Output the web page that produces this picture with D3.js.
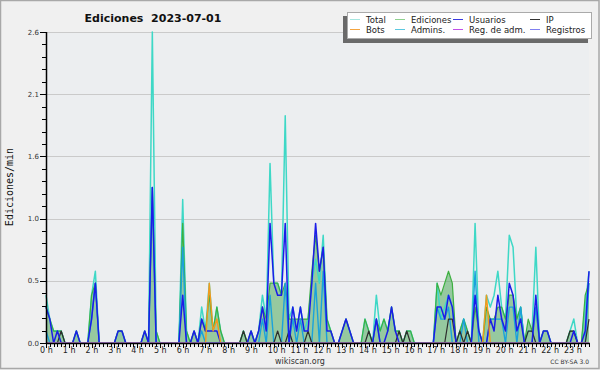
<!DOCTYPE html>
<html>
<head>
<meta charset="utf-8">
<script src="https://cdn.jsdelivr.net/npm/d3@7/dist/d3.min.js"></script>
<style>
body { margin: 0; background: #f0f0f0; }
text { font-family: "DejaVu Sans", sans-serif; }
</style>
</head>
<body>
<svg id="chart" width="600" height="370"></svg>
<script>
// edits per minute, one value every 10 minutes (6 per hour, 24 rows)
var total = [
    .4, .2, .1, .1, .1, 0,
    0, 0, .1, 0, 0, 0,
    .4, .6, 0, 0, 0, 0,
    0, .1, .1, 0, 0, 0,
    0, 0, .1, 0, 2.6, .1,
    0, 0, 0, 0, 0, 0,
    1.2, .1, 0, .1, 0, .3,
    .1, .5, .1, .3, .1, 0,
    0, 0, 0, 0, .1, 0,
    .1, 0, .1, .4, .2, 1.5,
    .5, .5, .4, 1.9, .2, .3,
    .1, .3, .1, .2, .5, .7,
    .5, .9, .2, .1, 0, 0,
    .1, .2, .1, 0, 0, 0,
    .2, .1, 0, .4, .1, .2,
    .1, .3, .1, .1, 0, .1,
    .1, 0, 0, 0, 0, 0,
    0, .5, .2, .3, .4, .3,
    0, .1, .2, .1, 0, 1.0,
    .1, 0, .4, .3, .4, .6,
    .3, .2, .9, .8, .2, .3,
    0, .1, .1, .8, 0, .1,
    .1, 0, 0, 0, 0, 0,
    .1, .2, 0, 0, .3, .6
];
var ediciones = [
    .3, .2, .1, .1, .1, 0,
    0, 0, .1, 0, 0, 0,
    .4, .5, 0, 0, 0, 0,
    0, .1, .1, 0, 0, 0,
    0, 0, .1, 0, 1.3, .1,
    0, 0, 0, 0, 0, 0,
    1.0, .1, 0, .1, 0, .2,
    .1, .4, .1, .3, .1, 0,
    0, 0, 0, 0, .1, 0,
    .1, 0, .1, .3, .2, .5,
    .5, .5, .4, .5, .2, .2,
    .2, .2, .2, .2, .6, .9,
    .6, .8, .2, .1, 0, 0,
    .1, .2, .1, 0, 0, 0,
    .2, .1, 0, .2, .1, .2,
    .1, .3, .1, .1, 0, .1,
    .1, 0, 0, 0, 0, 0,
    0, .5, .4, .5, .6, .5,
    0, .1, .2, .1, 0, .3,
    .1, 0, .3, .2, .2, .3,
    .3, .2, .4, .4, .2, .3,
    0, .2, .1, .3, 0, .1,
    .1, 0, 0, 0, 0, 0,
    .1, .1, 0, 0, .4, .5
];
var usuarios = [
    .3, .2, 0, .1, 0, 0,
    0, 0, .1, 0, 0, 0,
    .2, .5, 0, 0, 0, 0,
    0, .1, .1, 0, 0, 0,
    0, 0, .1, 0, 1.3, 0,
    0, 0, 0, 0, 0, 0,
    .4, 0, 0, .1, 0, .2,
    .1, .1, .1, .1, 0, 0,
    0, 0, 0, 0, 0, 0,
    .1, 0, .1, .3, .1, 1.0,
    .5, .4, .4, 1.0, 0, .3,
    .1, .3, .1, .1, .5, 1.0,
    .6, .8, .1, .1, 0, 0,
    .1, .2, .1, 0, 0, 0,
    0, 0, 0, .2, 0, 0,
    .1, .3, .1, 0, 0, 0,
    0, 0, 0, 0, 0, 0,
    0, .3, .3, .2, .4, .3,
    0, 0, 0, 0, 0, .4,
    .1, 0, 0, .2, .1, .4,
    .2, .1, .5, .4, .1, .2,
    0, 0, 0, .4, 0, .1,
    .1, 0, 0, 0, 0, 0,
    0, .1, 0, 0, .1, .6
];
var ip = [
    0, 0, 0, 0, .1, 0,
    0, 0, 0, 0, 0, 0,
    0, 0, 0, 0, 0, 0,
    0, 0, 0, 0, 0, 0,
    0, 0, 0, 0, 0, 0,
    0, 0, 0, 0, 0, 0,
    0, 0, 0, 0, 0, 0,
    0, 0, 0, 0, 0, 0,
    0, 0, 0, 0, .1, 0,
    0, 0, 0, 0, 0, 0,
    0, .1, 0, 0, .1, 0,
    0, 0, 0, .1, 0, 0,
    0, 0, 0, 0, 0, 0,
    0, 0, 0, 0, 0, 0,
    0, .1, 0, 0, 0, 0,
    0, 0, 0, .1, 0, .1,
    0, 0, 0, 0, 0, 0,
    0, 0, 0, 0, .2, .2,
    0, .1, 0, .1, 0, 0,
    0, 0, 0, 0, 0, 0,
    0, 0, 0, 0, 0, 0,
    0, .1, .1, 0, 0, 0,
    0, 0, 0, 0, 0, 0,
    .1, .1, 0, 0, 0, .2
];
var bots = [
    0, 0, 0, 0, 0, 0,
    0, 0, 0, 0, 0, 0,
    0, 0, 0, 0, 0, 0,
    0, 0, 0, 0, 0, 0,
    0, 0, 0, 0, 0, 0,
    0, 0, 0, 0, 0, 0,
    0, 0, 0, 0, 0, 0,
    0, .5, .1, .2, 0, 0,
    0, 0, 0, 0, 0, 0,
    0, 0, 0, 0, 0, 0,
    0, 0, 0, 0, 0, 0,
    0, 0, 0, 0, 0, 0,
    0, 0, 0, 0, 0, 0,
    0, 0, 0, 0, 0, 0,
    0, 0, 0, 0, 0, 0,
    0, 0, 0, 0, 0, 0,
    0, 0, 0, 0, 0, 0,
    0, 0, 0, 0, 0, 0,
    0, 0, 0, 0, 0, 0,
    0, 0, .4, 0, 0, 0,
    0, 0, 0, 0, 0, 0,
    0, 0, 0, 0, 0, 0,
    0, 0, 0, 0, 0, 0,
    0, 0, 0, 0, 0, 0
];
var admins = [
    .1, 0, 0, 0, 0, 0,
    0, 0, 0, 0, 0, 0,
    .2, .5, 0, 0, 0, 0,
    0, 0, 0, 0, 0, 0,
    0, 0, 0, 0, 1.3, 0,
    0, 0, 0, 0, 0, 0,
    .8, 0, 0, 0, 0, .1,
    0, 0, 0, 0, 0, 0,
    0, 0, 0, 0, 0, 0,
    0, 0, 0, .2, 0, .4,
    0, 0, 0, .5, 0, .2,
    0, .2, 0, 0, 0, .5,
    0, .6, 0, 0, 0, 0,
    0, 0, 0, 0, 0, 0,
    0, 0, 0, .2, 0, 0,
    0, 0, 0, 0, 0, 0,
    0, 0, 0, 0, 0, 0,
    0, .3, .2, .2, .3, 0,
    0, 0, .2, 0, 0, .6,
    0, 0, 0, .2, .2, .2,
    .2, 0, .3, .3, 0, .3,
    0, 0, 0, .3, 0, 0,
    0, 0, 0, 0, 0, 0,
    0, 0, 0, 0, 0, .5
];
var regAdm = d3.range(144).map(function () { return 0; });
var registros = d3.range(144).map(function () { return 0; });

var legendNames = ["Total", "Ediciones", "Usuarios", "IP", "Bots", "Admins.", "Reg. de adm.", "Registros"];
var legendColors = ["#a6e6e0", "#8fd18f", "#3a3ae0", "#333333", "#f4a540", "#5cc8e0", "#c050e8", "#8080f0"];
var hourLabels = d3.range(24).map(function (h) { return h + " h"; });
var yTicks = [0, 0.52, 1.04, 1.56, 2.08, 2.6];

var svg = d3.select("#chart");
var pLeft = 46, pRight = 589, pTop = 32, pBottom = 343;

var x = d3.scaleLinear().domain([0, 143 / 6]).range([pLeft, pRight]);
var y = d3.scaleLinear().domain([0, 2.6]).range([pBottom, pTop]);

// frame
svg.append("rect").attr("x", 0.5).attr("y", 0.5).attr("width", 598.5).attr("height", 368)
    .attr("fill", "#f0f0f0").attr("stroke", "#a8a8a8").attr("stroke-width", 1.5);
svg.append("rect").attr("x", pLeft).attr("y", pTop).attr("width", pRight - pLeft).attr("height", pBottom - pTop)
    .attr("fill", "#eceef0");

// grid
svg.append("g").selectAll("line").data(yTicks.slice(1)).enter().append("line")
    .attr("x1", pLeft).attr("x2", pRight + 1)
    .attr("y1", function (d) { return Math.round(y(d)) + 0.5; })
    .attr("y2", function (d) { return Math.round(y(d)) + 0.5; })
    .attr("stroke", "#cacaca");

// series
var lineOf = function (arr) {
    return d3.line().x(function (d, i) { return x(i / 6); }).y(function (d) { return y(d); })(arr);
};
var area = d3.area().x(function (d, i) { return x(i / 6); }).y0(pBottom).y1(function (d) { return y(d); });

svg.append("path").attr("d", area(ediciones)).attr("fill", "#3fa34d").attr("fill-opacity", 0.5);

var drawn = [
    [total, "#3ed8c6", 1.5],
    [ediciones, "#3db040", 1.2],
    [admins, "#1aa2dc", 1.4],
    [ip, "#2e2e2e", 1.2],
    [usuarios, "#1c1ce8", 1.5],
    [bots, "#f39a1c", 1.4],
    [regAdm, "#c050e8", 1],
    [registros, "#8080f0", 1]
];
drawn.forEach(function (s) {
    svg.append("path").attr("d", lineOf(s[0])).attr("fill", "none")
        .attr("stroke", s[1]).attr("stroke-width", s[2]).attr("stroke-linejoin", "round");
});

// y axis
var yMinor = d3.range(0, 26).map(function (k) { return k * 0.104; });
svg.append("g").selectAll("line").data(yMinor).enter().append("line")
    .attr("x1", function (d, i) { return i % 5 == 0 ? pLeft - 6 : pLeft - 4; }).attr("x2", pLeft)
    .attr("y1", function (d) { return Math.round(y(d)) + 0.5; })
    .attr("y2", function (d) { return Math.round(y(d)) + 0.5; })
    .attr("stroke", "#000");
svg.append("line").attr("x1", pLeft + 0.5).attr("x2", pLeft + 0.5).attr("y1", pTop).attr("y2", pBottom + 1)
    .attr("stroke", "#000").attr("stroke-width", 1.5);
svg.append("g").selectAll("text").data(yTicks).enter().append("text")
    .attr("x", pLeft - 7).attr("y", function (d) { return y(d) + 2.5; })
    .attr("text-anchor", "end").style("font-size", "7px").attr("fill", "#333")
    .text(function (d) { return d3.format(".1f")(d); });

// x axis
svg.append("line").attr("x1", pLeft).attr("x2", pRight + 1).attr("y1", pBottom + 0.5).attr("y2", pBottom + 0.5)
    .attr("stroke", "#000").attr("stroke-width", 1.5);
svg.append("g").selectAll("line").data(d3.range(144)).enter().append("line")
    .attr("x1", function (d) { return Math.round(x(d / 6)) + 0.5; })
    .attr("x2", function (d) { return Math.round(x(d / 6)) + 0.5; })
    .attr("y1", pBottom).attr("y2", function (d) { return d % 6 == 0 ? pBottom + 5 : pBottom + 4; })
    .attr("stroke", "#000");
svg.append("g").selectAll("text").data(hourLabels).enter().append("text")
    .attr("x", function (d, i) { return x(i) - 6; }).attr("y", 353)
    .style("font-size", "8px").attr("fill", "#222")
    .text(function (d) { return d; });

// texts
svg.append("text").attr("x", 153).attr("y", 22).attr("text-anchor", "middle")
    .style("font-size", "11px").style("font-weight", "bold").attr("fill", "#111")
    .attr("xml:space", "preserve").text("Ediciones  2023-07-01");
svg.append("text").attr("transform", "translate(13,187) rotate(-90)").attr("text-anchor", "middle")
    .style("font-family", "'DejaVu Sans Mono', monospace").style("font-size", "10px").attr("fill", "#111")
    .text("Ediciones/min");
svg.append("text").attr("x", 300).attr("y", 364).attr("text-anchor", "middle")
    .style("font-size", "8px").attr("fill", "#333").text("wikiscan.org");
svg.append("text").attr("x", 589).attr("y", 364).attr("text-anchor", "end")
    .style("font-size", "6px").attr("fill", "#333").text("CC BY-SA 3.0");

// legend
var lg = svg.append("g");
lg.append("rect").attr("x", 343).attr("y", 16).attr("width", 245).attr("height", 27).attr("fill", "#6a6a6a");
lg.append("rect").attr("x", 347.5).attr("y", 12.5).attr("width", 244).attr("height", 26)
    .attr("fill", "#fff").attr("stroke", "#aaa");
var colX = [350, 395, 453, 530];
legendNames.forEach(function (name, i) {
    var cx = colX[i % 4], cy = i < 4 ? 19 : 29;
    lg.append("line").attr("x1", cx).attr("x2", cx + 10).attr("y1", cy + 0.5).attr("y2", cy + 0.5)
        .attr("stroke", legendColors[i]);
    lg.append("text").attr("x", cx + 16).attr("y", cy + 3.5).style("font-size", "8.5px").attr("fill", "#222")
        .text(name);
});
</script>
</body>
</html>
